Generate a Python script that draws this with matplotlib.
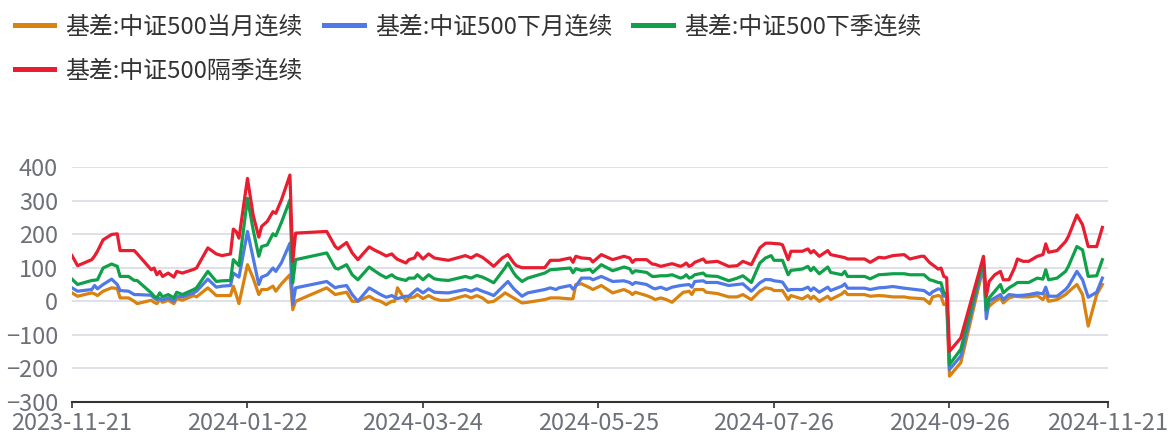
import matplotlib
matplotlib.use('Agg')
from matplotlib import pyplot as plt
from matplotlib.lines import Line2D
import matplotlib.dates as mdates
import pandas as pd

plt.rcParams['font.family'] = ['Noto Sans CJK SC', 'DejaVu Sans']

dates = ['2023-11-21', '2023-11-23', '2023-11-28', '2023-11-29', '2023-11-30', '2023-12-02',
         '2023-12-05', '2023-12-07', '2023-12-08', '2023-12-11', '2023-12-13', '2023-12-14',
         '2023-12-19', '2023-12-20', '2023-12-21', '2023-12-22', '2023-12-23', '2023-12-25',
         '2023-12-27', '2023-12-28', '2023-12-30', '2024-01-03', '2024-01-04', '2024-01-08',
         '2024-01-11', '2024-01-13', '2024-01-16', '2024-01-17', '2024-01-18', '2024-01-19',
         '2024-01-22', '2024-01-24', '2024-01-26', '2024-01-27', '2024-01-29', '2024-01-31',
         '2024-02-01', '2024-02-03', '2024-02-06', '2024-02-07', '2024-02-08', '2024-02-19',
         '2024-02-22', '2024-02-23', '2024-02-26', '2024-02-28', '2024-03-01', '2024-03-05',
         '2024-03-07', '2024-03-09', '2024-03-11', '2024-03-13', '2024-03-14', '2024-03-15',
         '2024-03-18', '2024-03-19', '2024-03-21', '2024-03-22', '2024-03-24', '2024-03-26',
         '2024-03-28', '2024-03-30', '2024-04-02', '2024-04-08', '2024-04-10', '2024-04-12',
         '2024-04-14', '2024-04-16', '2024-04-18', '2024-04-21', '2024-04-22', '2024-04-23',
         '2024-04-25', '2024-04-26', '2024-04-28', '2024-04-30', '2024-05-06', '2024-05-08',
         '2024-05-10', '2024-05-11', '2024-05-15', '2024-05-16', '2024-05-17', '2024-05-19',
         '2024-05-22', '2024-05-23', '2024-05-26', '2024-05-30', '2024-06-03', '2024-06-05',
         '2024-06-06', '2024-06-07', '2024-06-11', '2024-06-13', '2024-06-14', '2024-06-16',
         '2024-06-18', '2024-06-20', '2024-06-23', '2024-06-24', '2024-06-25', '2024-06-26',
         '2024-06-27', '2024-06-28', '2024-07-01', '2024-07-02', '2024-07-06', '2024-07-10',
         '2024-07-13', '2024-07-15', '2024-07-18', '2024-07-21', '2024-07-23', '2024-07-25',
         '2024-07-26', '2024-07-28', '2024-07-29', '2024-07-31', '2024-08-01', '2024-08-05',
         '2024-08-07', '2024-08-08', '2024-08-09', '2024-08-11', '2024-08-14', '2024-08-15',
         '2024-08-19', '2024-08-20', '2024-08-21', '2024-08-27', '2024-08-29', '2024-09-01',
         '2024-09-03', '2024-09-06', '2024-09-10', '2024-09-12', '2024-09-16', '2024-09-17',
         '2024-09-19', '2024-09-20', '2024-09-22', '2024-09-23', '2024-09-24', '2024-09-25',
         '2024-09-26', '2024-09-30', '2024-10-08', '2024-10-09', '2024-10-10', '2024-10-12',
         '2024-10-14', '2024-10-15', '2024-10-17', '2024-10-19', '2024-10-20', '2024-10-22',
         '2024-10-24', '2024-10-27', '2024-10-29', '2024-10-30', '2024-10-31', '2024-11-03',
         '2024-11-06', '2024-11-07', '2024-11-10', '2024-11-12', '2024-11-14', '2024-11-17',
         '2024-11-19']

cur_month = [25, 15, 25, 22, 17, 30, 40, 38, 10, 10, 0, -7,
             3, -3, -7, 5, -3, 3, -7, 8, 3, 17, 13, 40,
             17, 17, 17, 45, 20, -7, 109, 69, 20, 35, 35, 45,
             30, 52, 79, -25, 0, 40, 20, 22, 27, 0, 0, 15,
             5, 0, -10, 0, 0, 40, 0, 10, 13, 20, 8, 17,
             8, 3, 3, 17, 10, 17, 10, -3, 0, 18, 25, 20,
             10, 5, -5, -3, 5, 10, 10, 10, 7, 8, 50, 52,
             40, 35, 47, 25, 35, 27, 20, 27, 17, 10, 5, 10,
             5, -3, 20, 27, 28, 30, 20, 35, 35, 27, 23, 13,
             13, 20, 5, 30, 40, 37, 32, 32, 32, 5, 17, 7,
             17, 7, 15, 0, 15, 5, 22, 30, 20, 20, 15, 17,
             16, 13, 13, 10, 8, 7, -7, 13, 17, 15, -10, -8,
             -223, -183, 104, -30, -15, 0, 10, -5, 10, 15, 14, 13,
             13, 17, 5, 20, 0, 5, 20, 28, 50, 20, -74, 20,
             50]

next_month = [40, 30, 35, 47, 37, 50, 66, 50, 32, 30, 20, 20,
              18, 10, 5, 8, 3, 10, 0, 15, 13, 25, 30, 66,
              42, 45, 47, 84, 78, 72, 208, 129, 50, 72, 79, 99,
              89, 115, 173, -10, 40, 59, 40, 43, 47, 20, 0, 40,
              30, 20, 12, 17, 12, 8, 15, 15, 30, 37, 25, 37,
              27, 26, 25, 35, 30, 37, 30, 24, 17, 42, 50, 59,
              38, 30, 15, 25, 35, 40, 35, 40, 47, 36, 45, 69,
              69, 64, 74, 59, 61, 56, 50, 56, 50, 40, 37, 42,
              35, 42, 47, 48, 49, 50, 42, 59, 61, 56, 56, 47,
              50, 52, 30, 55, 65, 64, 61, 59, 57, 32, 35, 35,
              42, 32, 40, 27, 42, 32, 45, 52, 39, 39, 35, 40,
              41, 44, 39, 37, 33, 32, 20, 28, 37, 35, 15, 16,
              -203, -163, 114, -52, 0, 10, 20, 5, 20, 18, 17, 18,
              20, 25, 22, 42, 15, 15, 35, 45, 89, 64, 12, 27,
              69]

next_quarter = [66, 50, 62, 63, 64, 99, 111, 104, 74, 74, 62, 62,
                25, 15, 10, 25, 13, 20, 10, 27, 20, 35, 40, 89,
                59, 61, 62, 124, 115, 106, 307, 213, 134, 163, 168, 201,
                195, 235, 302, 55, 124, 144, 99, 96, 109, 79, 64, 102,
                90, 79, 70, 79, 72, 68, 62, 69, 69, 79, 64, 79,
                67, 64, 62, 74, 69, 77, 72, 64, 55, 89, 100, 114,
                85, 74, 59, 69, 84, 94, 95, 96, 99, 85, 97, 92,
                95, 86, 109, 91, 102, 97, 84, 91, 86, 74, 74, 76,
                76, 79, 69, 72, 79, 69, 72, 79, 84, 76, 74, 61,
                69, 76, 56, 114, 129, 136, 122, 122, 122, 79, 92, 96,
                104, 91, 101, 82, 102, 86, 79, 89, 74, 74, 67, 79,
                80, 82, 82, 79, 79, 79, 64, 62, 56, 55, 25, 22,
                -188, -143, 124, -25, 10, 30, 50, 25, 40, 50, 56, 56,
                56, 69, 66, 94, 64, 69, 89, 104, 163, 153, 74, 76,
                124]

far_quarter = [136, 106, 124, 135, 149, 183, 199, 201, 151, 151, 151, 142,
               94, 99, 79, 89, 74, 84, 72, 89, 84, 95, 99, 159,
               141, 136, 141, 215, 208, 188, 366, 257, 191, 223, 238, 267,
               262, 302, 376, 119, 203, 208, 163, 156, 175, 144, 124, 162,
               152, 144, 135, 141, 132, 125, 114, 124, 129, 144, 126, 141,
               129, 126, 122, 136, 129, 139, 131, 118, 104, 129, 134, 139,
               115, 106, 100, 100, 100, 122, 122, 122, 129, 116, 134, 129,
               127, 117, 139, 124, 134, 129, 116, 124, 124, 111, 110, 104,
               108, 112, 104, 108, 114, 104, 108, 116, 126, 116, 119, 104,
               106, 119, 109, 159, 173, 173, 172, 171, 168, 124, 149, 149,
               156, 144, 151, 134, 151, 139, 132, 130, 126, 126, 116, 131,
               129, 136, 139, 126, 134, 134, 115, 109, 96, 99, 74, 70,
               -149, -109, 134, 15, 59, 79, 89, 64, 64, 100, 126, 119,
               119, 134, 139, 171, 146, 151, 178, 193, 257, 228, 163, 163,
               220]

labels = ['基差:中证500当月连续', '基差:中证500下月连续', '基差:中证500下季连续', '基差:中证500隔季连续']
colors = ['#d9820f', '#5079e8', '#11a04a', '#e81d30']
tick_dates = ['2023-11-21', '2024-01-22', '2024-03-24', '2024-05-25', '2024-07-26', '2024-09-26', '2024-11-21']

x = pd.to_datetime(dates)
series = [cur_month, next_month, next_quarter, far_quarter]

fig = plt.figure(figsize=(11.74, 4.36), dpi=100)
ax = fig.add_axes([0.0613, 0.078, 0.8825, 0.539])

for vals, c in zip(series, colors):
    ax.plot(x, vals, color=c, lw=2.3, solid_joinstyle='round')

ax.set_ylim(-300, 400)
ax.set_yticks(range(-300, 401, 100))
ax.set_xlim(pd.Timestamp('2023-11-21'), pd.Timestamp('2024-11-21'))
ax.set_xticks(pd.to_datetime(tick_dates))
ax.xaxis.set_major_formatter(mdates.DateFormatter('%Y-%m-%d'))

ax.grid(axis='y', color='#d9dce6', lw=1.2)
ax.set_axisbelow(True)
for s in ['left', 'right', 'top']:
    ax.spines[s].set_visible(False)
ax.spines['bottom'].set_color('#333333')
ax.spines['bottom'].set_linewidth(1.5)
ax.tick_params(axis='y', length=0, pad=10, labelsize=17, labelcolor='#6e7079')
ax.tick_params(axis='x', length=4, width=1.2, color='#333333', pad=3, labelsize=17, labelcolor='#6e7079')

handles = [Line2D([], [], color=c, lw=3.6) for c in colors]
order = [0, 3, 1, 2]
fig.legend([handles[i] for i in order], [labels[i] for i in order],
           loc='upper left', bbox_to_anchor=(0.0124, 0.965), ncol=3, frameon=False,
           borderpad=0, borderaxespad=0,
           fontsize=17.2, handlelength=1.67, handletextpad=0.46, columnspacing=0.88,
           labelspacing=0.9, labelcolor='#333333')

fig.savefig('out.png', dpi=100)
